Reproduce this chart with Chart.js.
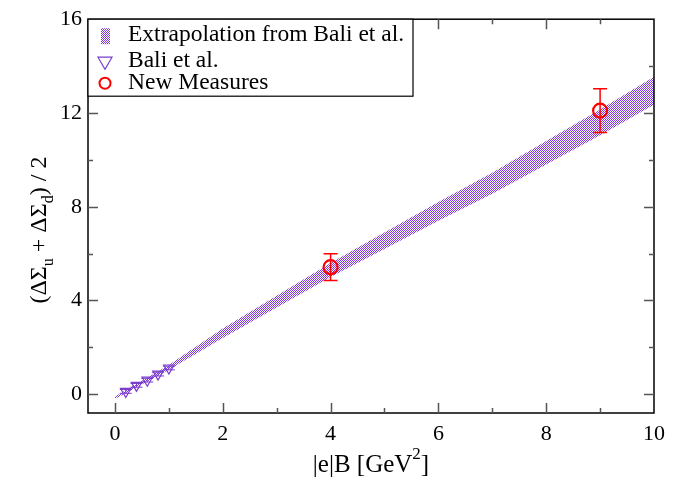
<!DOCTYPE html>
<html>
<head>
<meta charset="utf-8">
<script src="https://cdn.jsdelivr.net/npm/chart.js@4/dist/chart.umd.min.js"></script>
<style>
  html, body { margin: 0; padding: 0; background: #fff; }
  #wrap { width: 673px; height: 480px; }
</style>
</head>
<body>
<div id="wrap"><canvas id="c"></canvas></div>
<script>
// Band from the Bali et al. extrapolation, sampled along |e|B
const bandX = [0, 1, 2, 3, 4, 5, 6, 7, 8, 9, 10];
const bandUpper = [-0.1, 1.25, 2.8, 4.2, 5.6, 6.9, 8.2, 9.45, 10.8, 12.15, 13.55];
const bandLower = [-0.2, 1.05, 2.4, 3.7, 5.0, 6.2, 7.4, 8.55, 9.8, 11.05, 12.35];

// Bali et al. points
const baliX = [0.2, 0.4, 0.6, 0.8, 1.0];
const baliY = [0.12, 0.38, 0.6, 0.86, 1.12];
const baliErr = [0.08, 0.08, 0.08, 0.08, 0.08];

// New measures
const newX = [4, 9];
const newY = [5.42, 12.1];
const newErr = [0.57, 0.93];

const xTicks = [0, 2, 4, 6, 8, 10];
const xMinor = [1, 3, 5, 7, 9];
const yTicks = [0, 4, 8, 12, 16];
const yMinor = [2, 6, 10, 14];

const purple = '#7a3ccc';
const red = '#ff0000';
const serif = '"Liberation Serif", "DejaVu Serif", serif';

function hatch() {
    const p = document.createElement('canvas');
    p.width = 2; p.height = 2;
    const g = p.getContext('2d');
    g.fillStyle = '#ffffff';
    g.fillRect(0, 0, 2, 2);
    g.fillStyle = '#8436dc';
    g.fillRect(0, 0, 1, 1);
    g.fillRect(1, 1, 1, 1);
    return g.createPattern(p, 'repeat');
}
const bandFill = hatch();

const pts = (xs, ys) => xs.map((x, i) => ({ x, y: ys[i] }));

// inward ticks on all four sides, full frame
const framePlugin = {
    id: 'frame',
    afterDatasetsDraw(chart) {
        const { ctx, chartArea: a, scales: { x, y } } = chart;
        ctx.save();
        ctx.strokeStyle = '#000';
        ctx.lineWidth = 1.5;
        ctx.strokeRect(a.left, a.top, a.right - a.left, a.bottom - a.top);
        ctx.strokeStyle = '#555';
        ctx.lineWidth = 1.5;
        const tick = (vals, len) => {
            vals.forEach(v => {
                const px = Math.round(x.getPixelForValue(v)) + 0.5;
                ctx.beginPath();
                ctx.moveTo(px, a.bottom); ctx.lineTo(px, a.bottom - len);
                ctx.moveTo(px, a.top); ctx.lineTo(px, a.top + len);
                ctx.stroke();
            });
        };
        const tickY = (vals, len) => {
            vals.forEach(v => {
                const py = Math.round(y.getPixelForValue(v)) + 0.5;
                ctx.beginPath();
                ctx.moveTo(a.left, py); ctx.lineTo(a.left + len, py);
                ctx.moveTo(a.right, py); ctx.lineTo(a.right - len, py);
                ctx.stroke();
            });
        };
        tick(xTicks.filter(v => v > -0.5 && v < 10), 10);
        tick(xMinor, 5);
        tickY(yTicks.filter(v => v < 16), 10);
        tickY(yMinor, 5);
        ctx.restore();
    }
};

// error bars for both point sets
const errorPlugin = {
    id: 'errors',
    afterDatasetsDraw(chart) {
        const { ctx, scales: { x, y } } = chart;
        const draw = (xs, ys, es, color, cap, lw) => {
            ctx.strokeStyle = color;
            ctx.lineWidth = lw;
            xs.forEach((v, i) => {
                const px = x.getPixelForValue(v);
                const top = y.getPixelForValue(ys[i] + es[i]);
                const bot = y.getPixelForValue(ys[i] - es[i]);
                ctx.beginPath();
                ctx.moveTo(px, top); ctx.lineTo(px, bot);
                ctx.moveTo(px - cap, top); ctx.lineTo(px + cap, top);
                ctx.moveTo(px - cap, bot); ctx.lineTo(px + cap, bot);
                ctx.stroke();
            });
        };
        ctx.save();
        draw(baliX, baliY, baliErr, purple, 6, 1);
        draw(newX, newY, newErr, red, 7, 1.5);
        ctx.restore();
    }
};

// legend box and axis titles with sub/superscripts
const textPlugin = {
    id: 'texts',
    afterDraw(chart) {
        const { ctx, chartArea: a } = chart;
        ctx.save();

        // legend
        const lx = a.left, ly = a.top, lw = 325, lh = 77;
        ctx.fillStyle = '#fff';
        ctx.fillRect(lx, ly, lw, lh);
        ctx.strokeStyle = '#000';
        ctx.lineWidth = 1.2;
        ctx.strokeRect(lx, ly, lw, lh);
        ctx.fillStyle = bandFill;
        ctx.fillRect(lx + 13, ly + 9, 9, 16);
        ctx.strokeStyle = purple;
        ctx.lineWidth = 1.2;
        ctx.beginPath();
        ctx.moveTo(lx + 10, ly + 38); ctx.lineTo(lx + 24, ly + 38); ctx.lineTo(lx + 17, ly + 50);
        ctx.closePath();
        ctx.stroke();
        ctx.strokeStyle = red;
        ctx.lineWidth = 2;
        ctx.beginPath();
        ctx.arc(lx + 17, ly + 64, 5.5, 0, Math.PI * 2);
        ctx.stroke();
        ctx.fillStyle = '#000';
        ctx.font = '23.5px ' + serif;
        ctx.textBaseline = 'alphabetic';
        ctx.textAlign = 'left';
        ctx.fillText('Extrapolation from Bali et al.', lx + 40, ly + 22);
        ctx.fillText('Bali et al.', lx + 40, ly + 48);
        ctx.fillText('New Measures', lx + 40, ly + 70);

        // x title
        const big = '25px ' + serif, small = '17px ' + serif;
        ctx.font = big;
        const w1 = ctx.measureText('|e|B [GeV').width;
        ctx.font = small;
        const w2 = ctx.measureText('2').width;
        ctx.font = big;
        const w3 = ctx.measureText(']').width;
        let sx = (a.left + a.right) / 2 - (w1 + w2 + w3) / 2;
        const by = 472;
        ctx.fillText('|e|B [GeV', sx, by);
        ctx.font = small;
        ctx.fillText('2', sx + w1, by - 13);
        ctx.font = big;
        ctx.fillText(']', sx + w1 + w2, by);

        // y title
        const ybig = '24px ' + serif, ysmall = '16px ' + serif;
        const parts = [
            ['(ΔΣ', ybig, 0], ['u', ysmall, 7], [' + ΔΣ', ybig, 0], ['d', ysmall, 7], [') / 2', ybig, 0]
        ];
        let total = 0;
        parts.forEach(p => { ctx.font = p[1]; p.push(ctx.measureText(p[0]).width); total += p[3]; });
        ctx.translate(46, (a.top + a.bottom) / 2 + 14);
        ctx.rotate(-Math.PI / 2);
        let tx = -total / 2;
        parts.forEach(p => {
            ctx.font = p[1];
            ctx.fillText(p[0], tx, p[2]);
            tx += p[3];
        });
        ctx.restore();
    }
};

new Chart(document.getElementById('c'), {
    type: 'scatter',
    data: {
        datasets: [
            {
                label: 'upper',
                type: 'line',
                data: pts(bandX, bandUpper),
                borderWidth: 0,
                borderColor: 'rgba(0,0,0,0)',
                pointRadius: 0,
                backgroundColor: bandFill,
                fill: '+1',
                order: 5
            },
            {
                label: 'lower',
                type: 'line',
                data: pts(bandX, bandLower),
                borderWidth: 0,
                borderColor: 'rgba(0,0,0,0)',
                pointRadius: 0,
                fill: false,
                order: 6
            },
            {
                label: 'Bali et al.',
                data: pts(baliX, baliY),
                pointStyle: 'triangle',
                rotation: 180,
                pointRadius: 6,
                borderColor: purple,
                backgroundColor: 'rgba(0,0,0,0)',
                borderWidth: 1.2,
                order: 2
            },
            {
                label: 'New Measures',
                data: pts(newX, newY),
                pointStyle: 'circle',
                pointRadius: 7,
                borderColor: red,
                backgroundColor: 'rgba(0,0,0,0)',
                borderWidth: 2.2,
                order: 1
            }
        ]
    },
    options: {
        responsive: true,
        maintainAspectRatio: false,
        animation: false,
        events: [],
        layout: { padding: { top: 16, right: 17, left: 0, bottom: 0 } },
        plugins: { legend: { display: false }, tooltip: { enabled: false } },
        scales: {
            x: {
                type: 'linear',
                min: -0.5,
                max: 10,
                afterBuildTicks: s => { s.ticks = xTicks.map(v => ({ value: v })); },
                afterFit: s => { s.height = 67; },
                grid: { display: false, drawTicks: false },
                border: { display: false },
                ticks: { color: '#000', padding: 8, font: { family: serif, size: 22 } }
            },
            y: {
                type: 'linear',
                min: -0.8,
                max: 16,
                afterBuildTicks: s => { s.ticks = yTicks.map(v => ({ value: v })); },
                afterFit: s => { s.width = 88; },
                grid: { display: false, drawTicks: false },
                border: { display: false },
                ticks: { color: '#000', padding: 6, font: { family: serif, size: 22 } }
            }
        }
    },
    plugins: [framePlugin, errorPlugin, textPlugin]
});
</script>
</body>
</html>
